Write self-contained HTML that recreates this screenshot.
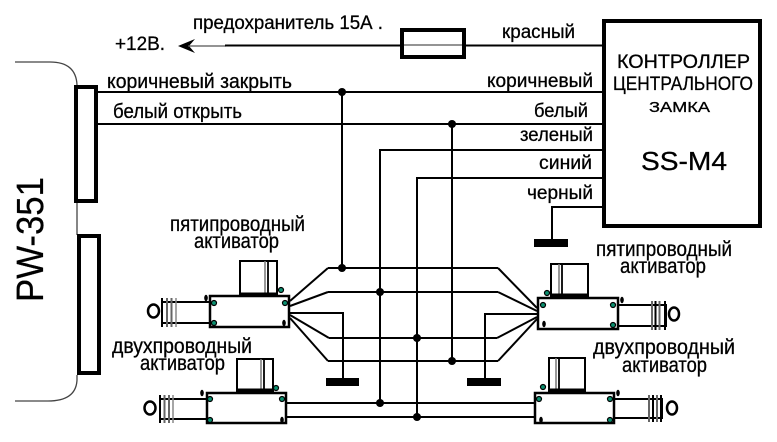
<!DOCTYPE html>
<html><head><meta charset="utf-8"><style>
html,body{margin:0;padding:0;background:#fff;}
svg{display:block;}
text{font-family:"Liberation Sans","DejaVu Sans",sans-serif;fill:#000;stroke:#000;stroke-width:0.3;}
text.big{stroke-width:0.2;}
</style></head><body>
<svg width="777" height="442" viewBox="0 0 777 442" xmlns="http://www.w3.org/2000/svg">
<rect width="777" height="442" fill="#fff"/>

<!-- PW-351 -->
<path d="M15,62 L50,62 Q76,62 77,85" fill="none" stroke="#444" stroke-width="1.3"/>
<path d="M77,375 L77,380 Q76,401 48,401 L15,401" fill="none" stroke="#444" stroke-width="1.3"/>
<line x1="77" y1="203" x2="77" y2="235" stroke="#444" stroke-width="1.3"/>
<rect x="76" y="87" width="20" height="114" fill="#fff" stroke="#000" stroke-width="4"/>
<rect x="79" y="236" width="20" height="137" fill="#fff" stroke="#000" stroke-width="4"/>
<text class="big" transform="translate(43,302) rotate(-90)" font-size="38" textLength="125" lengthAdjust="spacingAndGlyphs">PW-351</text>

<!-- top: +12V and fuse -->
<text x="193" y="29" font-size="19.5" textLength="190" lengthAdjust="spacingAndGlyphs">предохранитель 15А .</text>
<text x="115" y="50" font-size="19" textLength="50" lengthAdjust="spacingAndGlyphs">+12В.</text>
<polygon points="178,46 195,39 189,46 195,53" fill="#000"/>
<line x1="188" y1="46" x2="226" y2="46" stroke="#555" stroke-width="1.3"/>
<line x1="225" y1="45.5" x2="400" y2="45.5" stroke="#000" stroke-width="2"/>
<line x1="400" y1="45" x2="466" y2="45" stroke="#555" stroke-width="1.2"/>
<rect x="402" y="30" width="62" height="27" fill="none" stroke="#000" stroke-width="4"/>
<line x1="466" y1="45.5" x2="602" y2="45.5" stroke="#000" stroke-width="2"/>
<text x="502" y="38" font-size="19.5" textLength="73" lengthAdjust="spacingAndGlyphs">красный</text>

<!-- controller -->
<rect x="604" y="21" width="156" height="205" fill="#fff" stroke="#000" stroke-width="4"/>
<text x="617" y="68" font-size="19" textLength="133" lengthAdjust="spacingAndGlyphs">КОНТРОЛЛЕР</text>
<text x="613" y="90" font-size="19" textLength="140" lengthAdjust="spacingAndGlyphs">ЦЕНТРАЛЬНОГО</text>
<text x="649" y="112" font-size="15" textLength="61" lengthAdjust="spacingAndGlyphs">ЗАМКА</text>
<text x="641" y="170" font-size="26" textLength="86" lengthAdjust="spacingAndGlyphs">SS-M4</text>

<!-- main wires -->
<g stroke="#000" stroke-width="2" fill="none">
<line x1="98" y1="92" x2="602" y2="92"/>
<line x1="98" y1="124" x2="602" y2="124"/>
<polyline points="380,404 380,150 602,150"/>
<polyline points="417,417 417,178 602,178"/>
<line x1="342" y1="92" x2="342" y2="268"/>
<line x1="452" y1="124" x2="452" y2="361"/>
<polyline points="602,207 552,207 552,240"/>

<line x1="328" y1="268" x2="498" y2="268"/>
<line x1="328" y1="292" x2="498" y2="292"/>
<line x1="329" y1="338" x2="497" y2="338"/>
<line x1="328" y1="361" x2="498" y2="361"/>
<line x1="287" y1="403" x2="535" y2="403"/>
<line x1="287" y1="417" x2="535" y2="417"/>

<line x1="290" y1="301" x2="328" y2="268"/>
<line x1="290" y1="306" x2="328" y2="292"/>
<polyline points="290,313 343,313 343,380"/>
<line x1="290" y1="315" x2="329" y2="338"/>
<line x1="290" y1="318" x2="328" y2="361"/>

<line x1="537" y1="308" x2="498" y2="268"/>
<line x1="537" y1="311" x2="498" y2="292"/>
<polyline points="537,314 485,314 485,380"/>
<line x1="537" y1="317" x2="497" y2="338"/>
<line x1="537" y1="319" x2="498" y2="361"/>
</g>

<!-- ground bars -->
<rect x="534" y="239" width="34" height="8" fill="#000"/>
<rect x="326" y="378" width="33" height="8" fill="#000"/>
<rect x="467" y="378" width="34" height="8" fill="#000"/>

<!-- junction dots -->
<g fill="#000">
<circle cx="342" cy="92" r="4"/>
<circle cx="452" cy="124" r="4"/>
<circle cx="342" cy="268" r="4"/>
<circle cx="380" cy="292" r="4"/>
<circle cx="417" cy="338" r="4"/>
<circle cx="452" cy="361" r="4"/>
<circle cx="380" cy="403" r="4"/>
<circle cx="417" cy="417" r="4"/>
</g>

<!-- wire labels -->
<text x="107" y="88" font-size="20.5" textLength="185" lengthAdjust="spacingAndGlyphs">коричневый закрыть</text>
<text x="113" y="118" font-size="20.5" textLength="129" lengthAdjust="spacingAndGlyphs">белый открыть</text>
<text x="487" y="87" font-size="19.5" textLength="106" lengthAdjust="spacingAndGlyphs">коричневый</text>
<text x="534" y="117" font-size="19.5" textLength="54" lengthAdjust="spacingAndGlyphs">белый</text>
<text x="520" y="141" font-size="19.5" textLength="73" lengthAdjust="spacingAndGlyphs">зеленый</text>
<text x="539" y="169" font-size="19.5" textLength="53" lengthAdjust="spacingAndGlyphs">синий</text>
<text x="527" y="199" font-size="19.5" textLength="66" lengthAdjust="spacingAndGlyphs">черный</text>

<!-- actuator labels -->
<text x="170" y="231" font-size="21.5" textLength="135" lengthAdjust="spacingAndGlyphs">пятипроводный</text>
<text x="194" y="248" font-size="21.5" textLength="85" lengthAdjust="spacingAndGlyphs">активатор</text>
<text x="596" y="256" font-size="21.5" textLength="136" lengthAdjust="spacingAndGlyphs">пятипроводный</text>
<text x="620" y="273" font-size="21.5" textLength="86" lengthAdjust="spacingAndGlyphs">активатор</text>
<text x="112" y="353" font-size="21.5" textLength="140" lengthAdjust="spacingAndGlyphs">двухпроводный</text>
<text x="140" y="370" font-size="21.5" textLength="85" lengthAdjust="spacingAndGlyphs">активатор</text>
<text x="593" y="354" font-size="21.5" textLength="142" lengthAdjust="spacingAndGlyphs">двухпроводный</text>
<text x="622" y="372" font-size="21.5" textLength="85" lengthAdjust="spacingAndGlyphs">активатор</text>

<!-- LEFT 5-wire actuator -->
<g>
<rect x="240" y="261" width="37" height="34" fill="#fff" stroke="#000" stroke-width="2"/>
<line x1="265" y1="261" x2="265" y2="295" stroke="#777" stroke-width="1.5"/>
<line x1="268" y1="261" x2="268" y2="295" stroke="#000" stroke-width="1.8"/>
<line x1="240" y1="294" x2="277" y2="294" stroke="#000" stroke-width="3"/>
<rect x="210" y="296" width="79" height="31" fill="#fff" stroke="#000" stroke-width="2.5"/>
<polyline points="210,302 162,302 162,323 210,323" fill="none" stroke="#000" stroke-width="2"/>
<line x1="162" y1="298" x2="162" y2="327" stroke="#000" stroke-width="2"/>
<line x1="167" y1="298" x2="167" y2="327" stroke="#666" stroke-width="2"/>
<line x1="171.5" y1="298" x2="171.5" y2="327" stroke="#666" stroke-width="2"/>
<line x1="176" y1="298" x2="176" y2="327" stroke="#888" stroke-width="1.5"/>
<ellipse cx="153.5" cy="311" rx="5.5" ry="6.5" fill="none" stroke="#000" stroke-width="2.5"/>
<g fill="#0b8f6f" stroke="#000" stroke-width="1.2">
<circle cx="214" cy="303" r="2.5"/><circle cx="214" cy="323" r="2.5"/>
<circle cx="285" cy="303" r="2.5"/><circle cx="281" cy="290" r="2.5"/>
</g>
<ellipse cx="206" cy="298" rx="1.8" ry="3.2" fill="#000"/>
<ellipse cx="284" cy="323" rx="1.8" ry="3.2" fill="#000"/>
</g>

<!-- RIGHT 5-wire actuator -->
<g>
<rect x="551" y="264" width="37" height="32" fill="#fff" stroke="#000" stroke-width="2"/>
<line x1="559" y1="264" x2="559" y2="296" stroke="#777" stroke-width="1.5"/>
<line x1="562" y1="264" x2="562" y2="296" stroke="#000" stroke-width="1.8"/>
<line x1="551" y1="295" x2="588" y2="295" stroke="#000" stroke-width="3"/>
<rect x="538" y="298" width="80" height="31" fill="#fff" stroke="#000" stroke-width="2.5"/>
<polyline points="618,305 666,305 666,326 618,326" fill="none" stroke="#000" stroke-width="2"/>
<line x1="652" y1="301" x2="652" y2="330" stroke="#666" stroke-width="2"/>
<line x1="655.5" y1="301" x2="655.5" y2="330" stroke="#000" stroke-width="2"/>
<line x1="659.5" y1="301" x2="659.5" y2="330" stroke="#666" stroke-width="2"/>
<line x1="665" y1="301" x2="665" y2="330" stroke="#000" stroke-width="2"/>
<ellipse cx="674" cy="314" rx="5" ry="6.5" fill="none" stroke="#000" stroke-width="2.5"/>
<g fill="#0b8f6f" stroke="#000" stroke-width="1.2">
<circle cx="543" cy="305" r="2.5"/><circle cx="613" cy="305" r="2.5"/>
<circle cx="613" cy="325" r="2.5"/><circle cx="547" cy="293" r="2.5"/>
</g>
<ellipse cx="544" cy="324" rx="1.8" ry="3.2" fill="#000"/>
<ellipse cx="622" cy="300" rx="1.8" ry="3.2" fill="#000"/>
</g>

<!-- LEFT 2-wire actuator -->
<g>
<rect x="237" y="359" width="36" height="32" fill="#fff" stroke="#000" stroke-width="2"/>
<line x1="261" y1="359" x2="261" y2="391" stroke="#777" stroke-width="1.5"/>
<line x1="264" y1="359" x2="264" y2="391" stroke="#000" stroke-width="1.8"/>
<line x1="237" y1="390" x2="273" y2="390" stroke="#000" stroke-width="3"/>
<rect x="207" y="393" width="79" height="30" fill="#fff" stroke="#000" stroke-width="2.5"/>
<polyline points="207,399 160,399 160,419 207,419" fill="none" stroke="#000" stroke-width="2"/>
<line x1="160" y1="395" x2="160" y2="423" stroke="#000" stroke-width="2"/>
<line x1="164.5" y1="395" x2="164.5" y2="423" stroke="#666" stroke-width="2"/>
<line x1="169" y1="395" x2="169" y2="423" stroke="#666" stroke-width="2"/>
<line x1="173" y1="395" x2="173" y2="423" stroke="#888" stroke-width="1.5"/>
<ellipse cx="150" cy="408" rx="5.5" ry="6.5" fill="none" stroke="#000" stroke-width="2.5"/>
<g fill="#0b8f6f" stroke="#000" stroke-width="1.2">
<circle cx="210" cy="399" r="2.5"/><circle cx="210" cy="420" r="2.5"/>
<circle cx="282" cy="399" r="2.5"/><circle cx="276" cy="388" r="2.5"/>
</g>
<ellipse cx="202" cy="393" rx="1.8" ry="3.2" fill="#000"/>
<ellipse cx="282" cy="420" rx="1.8" ry="3.2" fill="#000"/>
</g>

<!-- RIGHT 2-wire actuator -->
<g>
<rect x="549" y="358" width="36" height="33" fill="#fff" stroke="#000" stroke-width="2"/>
<line x1="556" y1="358" x2="556" y2="391" stroke="#777" stroke-width="1.5"/>
<line x1="559" y1="358" x2="559" y2="391" stroke="#000" stroke-width="1.8"/>
<line x1="549" y1="390" x2="585" y2="390" stroke="#000" stroke-width="3"/>
<rect x="535" y="393" width="79" height="30" fill="#fff" stroke="#000" stroke-width="2.5"/>
<polyline points="614,399 662,399 662,418 614,418" fill="none" stroke="#000" stroke-width="2"/>
<line x1="649" y1="395" x2="649" y2="422" stroke="#666" stroke-width="2"/>
<line x1="653" y1="395" x2="653" y2="422" stroke="#000" stroke-width="2"/>
<line x1="657" y1="395" x2="657" y2="422" stroke="#666" stroke-width="2"/>
<line x1="661" y1="395" x2="661" y2="422" stroke="#000" stroke-width="2"/>
<ellipse cx="672" cy="408" rx="5" ry="6.5" fill="none" stroke="#000" stroke-width="2.5"/>
<g fill="#0b8f6f" stroke="#000" stroke-width="1.2">
<circle cx="539" cy="399" r="2.5"/><circle cx="610" cy="399" r="2.5"/>
<circle cx="610" cy="420" r="2.5"/><circle cx="543" cy="387" r="2.5"/>
</g>
<ellipse cx="541" cy="420" rx="1.8" ry="3.2" fill="#000"/>
<ellipse cx="618" cy="393" rx="1.8" ry="3.2" fill="#000"/>
</g>

</svg>
</body></html>
